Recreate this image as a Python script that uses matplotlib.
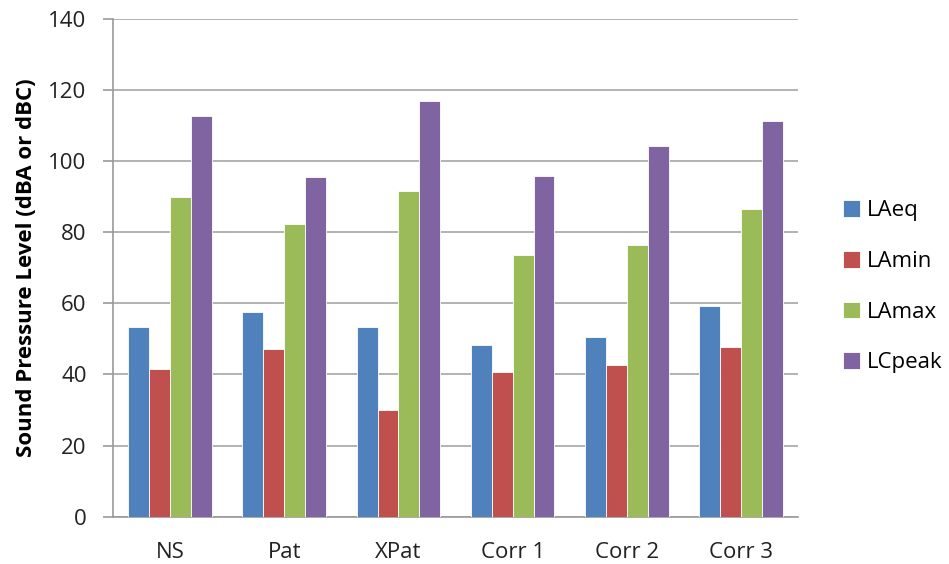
import numpy as np
import matplotlib.pyplot as plt

# sound level summary per location
locations = ["NS", "Pat", "XPat", "Corr 1", "Corr 2", "Corr 3"]
laeq = [53.5, 57.7, 53.5, 48.3, 50.6, 59.2]
lamin = [41.6, 47.2, 30.1, 40.8, 42.7, 47.6]
lamax = [90.0, 82.3, 91.6, 73.7, 76.4, 86.7]
lcpeak = [112.8, 95.7, 116.9, 96.0, 104.2, 111.3]

series = [("LAeq", laeq, "#4F81BD"),
          ("LAmin", lamin, "#C0504D"),
          ("LAmax", lamax, "#9BBB59"),
          ("LCpeak", lcpeak, "#8064A2")]

plt.rcParams['font.family'] = ['Open Sans', 'DejaVu Sans']

fig = plt.figure(figsize=(9.49, 5.64), dpi=100)
ax = fig.add_axes([0.119, 0.084, 0.722, 0.882])

x = np.arange(len(locations))
w = 0.183
for i, (name, vals, col) in enumerate(series):
    ax.bar(x + (i - 1.5) * w, vals, w, color=col, label=name,
           edgecolor="#ffffff", linewidth=0.6, zorder=3)

ax.set_xlim(-0.5, len(locations) - 0.5)
ax.set_ylim(0, 140)
ax.set_yticks(np.arange(0, 141, 20))
ax.set_xticks(x)
ax.set_xticklabels(locations)
ax.grid(axis="y", color="#A6A6A6", linewidth=1.2, zorder=0)

for s in ["top", "right"]:
    ax.spines[s].set_visible(False)
for s in ["left", "bottom"]:
    ax.spines[s].set_color("#999999")
    ax.spines[s].set_linewidth(1.2)

ax.tick_params(axis="y", length=7, width=1.2, color="#999999",
               labelsize=16, labelcolor="#222222", pad=12)
ax.tick_params(axis="x", length=0, labelsize=16, labelcolor="#222222", pad=18)

ax.set_ylabel("Sound Pressure Level (dBA or dBC)", fontsize=16,
              fontweight="bold", labelpad=8)

ax.legend(loc="center left", bbox_to_anchor=(1.036, 0.462), frameon=False,
          fontsize=16, handlelength=0.77, handleheight=0.77,
          handletextpad=0.3, labelspacing=1.33, borderaxespad=0.5)

fig.savefig("out.png", dpi=100)
